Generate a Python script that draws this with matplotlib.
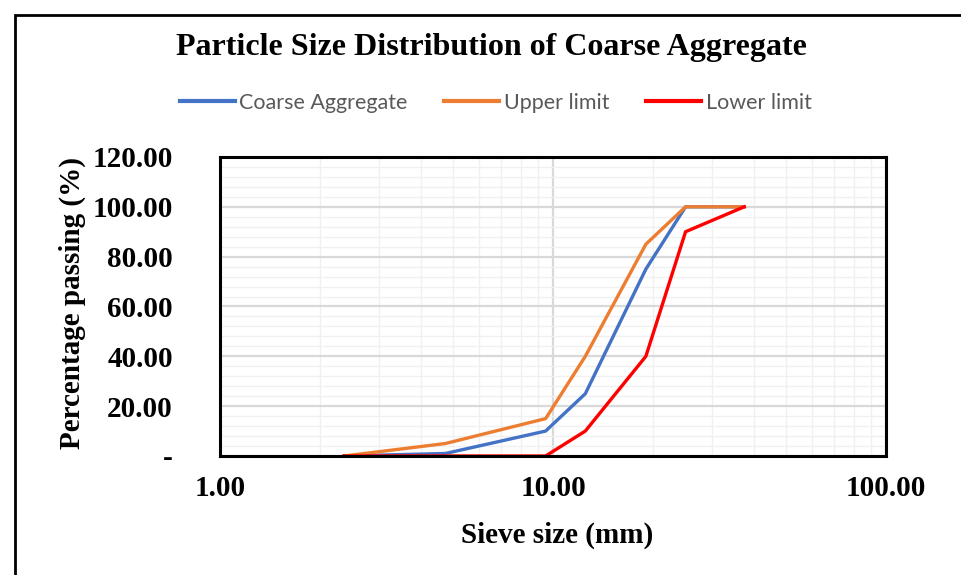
import matplotlib.pyplot as plt
from matplotlib.ticker import FixedLocator, FuncFormatter, MultipleLocator
from matplotlib.patches import Rectangle

sieve = [2.36, 4.75, 9.5, 12.5, 19, 25, 37.5]
coarse = [0, 1, 10, 25, 75, 100, 100]
upper = [0, 5, 15, 40, 85, 100, 100]
lower = [0, 0, 0, 10, 40, 90, 100]

serif = 'Liberation Serif'

fig = plt.figure(figsize=(9.61, 5.75), dpi=100)
ax = fig.add_axes([0.229, 0.207, 0.693, 0.520])

ax.plot(sieve, coarse, color='#4472C4', lw=2.4, label='Coarse Aggregate')
ax.plot(sieve, upper, color='#ED7D31', lw=2.4, label='Upper limit')
ax.plot(sieve, lower, color='#FF0000', lw=2.4, label='Lower limit')

ax.set_xscale('log')
ax.set_xlim(1, 100)
ax.set_ylim(0, 120)
ax.xaxis.set_major_locator(FixedLocator([1, 10, 100]))
ax.xaxis.set_minor_locator(FixedLocator([m * d for d in (1, 10) for m in range(2, 10)]))
ax.xaxis.set_major_formatter(FuncFormatter(lambda v, p: '%.2f' % v))
ax.xaxis.set_minor_formatter(FuncFormatter(lambda v, p: ''))
ax.yaxis.set_major_locator(MultipleLocator(20))
ax.yaxis.set_minor_locator(MultipleLocator(4))
ax.yaxis.set_major_formatter(FuncFormatter(lambda v, p: '-' if v == 0 else '%.2f' % v))

ax.grid(which='major', color='#d9d9d9', lw=1.6)
ax.grid(which='minor', color='#f0f0f0', lw=1.0)
ax.set_axisbelow(True)
ax.tick_params(which='both', length=0)
ax.tick_params(axis='x', pad=14)
ax.tick_params(axis='y', pad=34)
for lab in ax.get_xticklabels() + ax.get_yticklabels():
    lab.set_fontfamily(serif)
    lab.set_fontweight('bold')
    lab.set_fontsize(21)
for s in ax.spines.values():
    s.set_linewidth(2.2)
    s.set_color('black')

ax.set_xlabel('Sieve size (mm)', fontfamily=serif, fontweight='bold', fontsize=21)
ax.xaxis.label.set_va('center')
ax.xaxis.set_label_coords(0.506, -0.264)
ax.set_ylabel('Percentage passing (%)', fontfamily=serif, fontweight='bold', fontsize=21)
ax.yaxis.label.set_va('center')
ax.yaxis.set_label_coords(-0.222, 0.51)

fig.text(0.511, 0.918, 'Particle Size Distribution of Coarse Aggregate', ha='center', va='center',
         fontfamily=serif, fontweight='bold', fontsize=23)

leg = fig.legend(loc='center', bbox_to_anchor=(0.516, 0.821), ncol=3, frameon=False,
                 prop={'family': 'Lato', 'size': 15.5}, handlelength=2.55, handletextpad=0.23,
                 columnspacing=1.7)
for t in leg.get_texts():
    t.set_color('#595959')
for h in leg.get_lines():
    h.set_linewidth(3)

fig.patches.append(Rectangle((15 / 961, -0.1), 1.2, 1 - 15 / 575 + 0.1, transform=fig.transFigure,
                             fill=False, edgecolor='black', lw=2))

fig.savefig('out.png', dpi=100)
